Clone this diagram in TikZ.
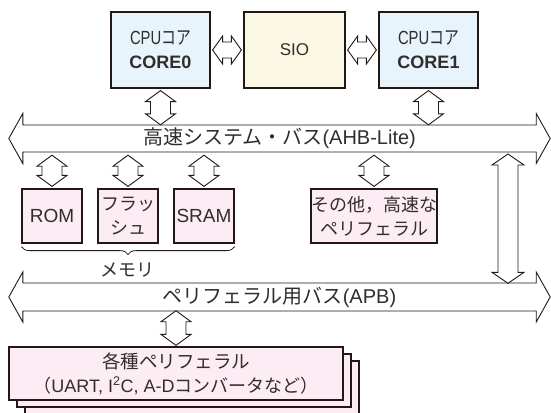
\documentclass[tikz,border=0pt]{standalone}
\usepackage{fontspec}
\setmainfont{Noto Sans CJK JP}
\newfontfamily\lat{Liberation Sans}
\usetikzlibrary{calc,backgrounds,decorations.pathreplacing}

\definecolor{coreblue}{RGB}{232,244,252}
\definecolor{sioyellow}{RGB}{251,248,228}
\definecolor{memopink}{RGB}{252,236,243}
\definecolor{inkline}{RGB}{35,24,21}
\definecolor{inktext}{RGB}{50,45,45}

% hollow double arrows, #1/#2 = ends, #3 = head half width,
% #4 = shaft half width, #5 = head length
\newcommand{\vfat}[5]{%
  \draw[fatline] let \p1=#1, \p2=#2 in
    (\x1,\y1) -- (\x1+#3,\y1-#5) -- (\x1+#4,\y1-#5) -- (\x1+#4,\y2+#5)
    -- (\x1+#3,\y2+#5) -- (\x1,\y2) -- (\x1-#3,\y2+#5) -- (\x1-#4,\y2+#5)
    -- (\x1-#4,\y1-#5) -- (\x1-#3,\y1-#5) -- cycle;}
\newcommand{\hfat}[5]{%
  \draw[fatline] let \p1=#1, \p2=#2 in
    (\x1,\y1) -- (\x1+#5,\y1+#3) -- (\x1+#5,\y1+#4) -- (\x2-#5,\y1+#4)
    -- (\x2-#5,\y1+#3) -- (\x2,\y1) -- (\x2-#5,\y1-#3) -- (\x2-#5,\y1-#4)
    -- (\x1+#5,\y1-#4) -- (\x1+#5,\y1-#3) -- cycle;}
% condensed first line of the core boxes
\newcommand{\cpucore}{\scalebox{0.78}[1]{\fontsize{19}{22}\selectfont\lat CPU\normalfont コア}}

\begin{document}
\begin{tikzpicture}[x=1pt,y=-1pt,node distance=134pt,
    box/.style={draw=inkline,line width=1.2pt,align=center,inner sep=0pt,
                text=inktext,font=\fontsize{18}{24}\selectfont},
    corebox/.style={box,fill=coreblue,minimum width=99,minimum height=76},
    siobox/.style={box,fill=sioyellow,minimum width=101,minimum height=76},
    membox/.style={box,fill=memopink,minimum width=60,minimum height=54},
    stackbox/.style={box,fill=memopink,minimum width=334,minimum height=53},
    bus/.style={inner sep=0pt,minimum width=541,minimum height=27,
                text=inktext,font=\fontsize{20}{24}\selectfont},
    fatline/.style={draw=inkline,line width=0.9pt,fill=white,line join=miter},
    lbl/.style={text=inktext,font=\fontsize{18}{22}\selectfont}]

  \useasboundingbox (0,0) rectangle (551,412);

  % cores and SIO
  \node[corebox] (core0) at (160.5,50) {\cpucore\\{\lat\bfseries CORE0}};
  \node[siobox]  (sio)   [right of=core0] {\fontsize{17}{20}\selectfont\lat SIO};
  \node[corebox] (core1) [right of=sio]   {\cpucore\\{\lat\bfseries CORE1}};

  \hfat{($(core0.east)+(2,0)$)}{($(sio.west)+(-2,0)$)}{14pt}{8pt}{10pt}
  \hfat{($(sio.east)+(2,0)$)}{($(core1.west)+(-2,0)$)}{14pt}{8pt}{10pt}

  % buses, outlines behind the names
  \node[bus] (ahb) at (279.5,138.5) {高速システム・バス{\lat(AHB-Lite)}};
  \node[bus] (apb) at (279.5,297)   {ペリフェラル用バス{\lat(APB)}};
  \begin{scope}[on background layer]
    \hfat{(ahb.west)}{(ahb.east)}{25pt}{13.5pt}{14pt}
    \hfat{(apb.west)}{(apb.east)}{25pt}{14pt}{14pt}
  \end{scope}

  \vfat{($(core0.south)+(0,2)$)}{(core0.south |- ahb.north)}{15pt}{10pt}{11pt}
  \vfat{($(core1.south)+(0,2)$)}{(core1.south |- ahb.north)}{15pt}{10pt}{11pt}

  % memories and other fast peripherals
  \node[membox] (rom)   at (52,216) {\fontsize{19}{22}\selectfont\lat ROM};
  \node[membox] (flash) [right of=rom,node distance=76pt] {フラッ\\シュ};
  \node[membox] (sram)  [right of=flash,node distance=76pt] {\fontsize{19}{22}\selectfont\lat SRAM};
  \node[membox,minimum width=126] (fast) at (374,216) {その他，高速な\\ペリフェラル};

  \vfat{($(rom.north |- ahb.south)+(0,3)$)}{($(rom.north)+(0,-2)$)}{15pt}{10pt}{11pt}
  \vfat{($(flash.north |- ahb.south)+(0,3)$)}{($(flash.north)+(0,-2)$)}{15pt}{10pt}{11pt}
  \vfat{($(sram.north |- ahb.south)+(0,3)$)}{($(sram.north)+(0,-2)$)}{15pt}{10pt}{11pt}
  \vfat{($(fast.north |- ahb.south)+(0,3)$)}{($(fast.north)+(0,-2)$)}{15pt}{10pt}{11pt}

  \draw[inkline,line width=0.8pt,decorate,decoration={brace,mirror,amplitude=8pt}]
    ($(rom.south west)+(0,3)$) -- ($(sram.south east)+(0,3)$);
  \node[lbl] (memlabel) at (127,270) {メモリ};

  % bridge between the buses
  \coordinate (bridge) at (508,154);
  \vfat{(bridge)}{(bridge |- apb.north)}{16pt}{10pt}{11pt}

  % peripheral stack
  \node[stackbox] (per3) at (192,387.5) {};
  \node[stackbox] (per2) at (184,380.5) {};
  \node[stackbox] (per)  at (176,373.5)
    {\fontsize{18.5}{25}\selectfont 各種ペリフェラル\\（{\lat UART, I\textsuperscript{2}C, A-D}コンバータなど）};

  \vfat{(per.north |- apb.south)}{($(per.north)+(0,-1)$)}{15pt}{10pt}{11pt}
\end{tikzpicture}
\end{document}
